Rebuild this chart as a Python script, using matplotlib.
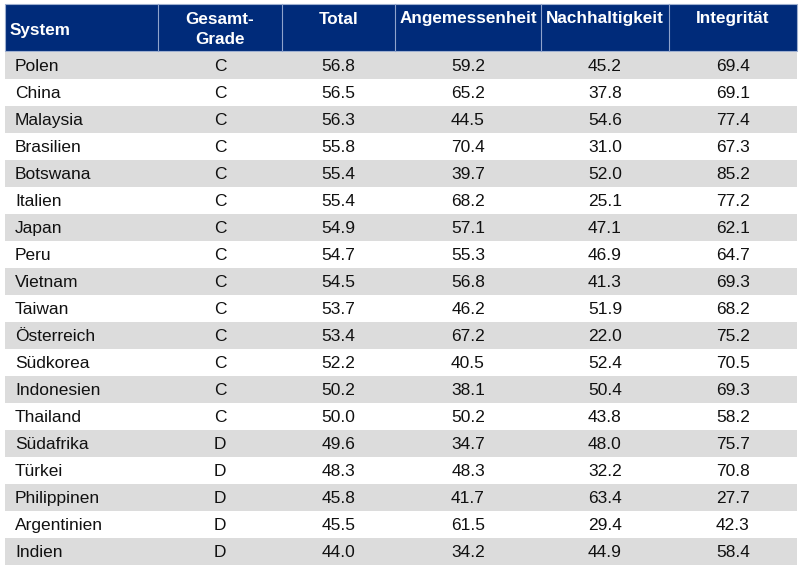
import matplotlib
matplotlib.use('Agg')
import matplotlib.pyplot as plt
from matplotlib.patches import Rectangle

plt.rcParams['font.family'] = ['Liberation Sans', 'DejaVu Sans']

# Tabellendaten
headers = ['System', 'Gesamt-\nGrade', 'Total', 'Angemessenheit', 'Nachhaltigkeit', 'Integrität']
systeme = ['Polen', 'China', 'Malaysia', 'Brasilien', 'Botswana', 'Italien', 'Japan', 'Peru',
           'Vietnam', 'Taiwan', 'Österreich', 'Südkorea', 'Indonesien', 'Thailand',
           'Südafrika', 'Türkei', 'Philippinen', 'Argentinien', 'Indien']
grade = ['C'] * 14 + ['D'] * 5
total = [56.8, 56.5, 56.3, 55.8, 55.4, 55.4, 54.9, 54.7, 54.5, 53.7, 53.4, 52.2, 50.2, 50.0,
         49.6, 48.3, 45.8, 45.5, 44.0]
angemessenheit = [59.2, 65.2, 44.5, 70.4, 39.7, 68.2, 57.1, 55.3, 56.8, 46.2, 67.2, 40.5, 38.1, 50.2,
                  34.7, 48.3, 41.7, 61.5, 34.2]
nachhaltigkeit = [45.2, 37.8, 54.6, 31.0, 52.0, 25.1, 47.1, 46.9, 41.3, 51.9, 22.0, 52.4, 50.4, 43.8,
                  48.0, 32.2, 63.4, 29.4, 44.9]
integritaet = [69.4, 69.1, 77.4, 67.3, 85.2, 77.2, 62.1, 64.7, 69.3, 68.2, 75.2, 70.5, 69.3, 58.2,
               75.7, 70.8, 27.7, 42.3, 58.4]

# Layout in Pixeln
col_edges = [5, 158, 282, 395, 541, 669, 797]
head_top, head_bot = 4, 51
row_h = 27.0

navy = '#002b7a'
grau = '#dcdcdc'

fig = plt.figure(figsize=(8, 5.68), dpi=100)
ax = fig.add_axes([0, 0, 1, 1])
ax.set_xlim(0, 800)
ax.set_ylim(568, 0)
ax.axis('off')

# Kopfzeile
ax.add_patch(Rectangle((col_edges[0], head_top), col_edges[-1] - col_edges[0], head_bot - head_top,
                       facecolor=navy, edgecolor='#9fb0d0', linewidth=0.8))
for x in col_edges[1:-1]:
    ax.plot([x, x], [head_top, head_bot], color='#8fa3cc', linewidth=0.8)

for i, h in enumerate(headers):
    if i == 0:
        ax.text(col_edges[0] + 5, 30, h, color='white', fontsize=12.3, fontweight='bold',
                ha='left', va='center')
    else:
        cx = (col_edges[i] + col_edges[i + 1]) / 2
        ax.text(cx, 11.5, h, color='white', fontsize=12.3, fontweight='bold',
                ha='center', va='top', linespacing=1.45)

# Zeilen
spalten = [grade, total, angemessenheit, nachhaltigkeit, integritaet]
for r, name in enumerate(systeme):
    y0 = head_bot + 1 + r * row_h
    if r % 2 == 0:
        ax.add_patch(Rectangle((col_edges[0], y0), col_edges[-1] - col_edges[0], row_h,
                               facecolor=grau, edgecolor='none'))
    yc = y0 + row_h / 2 + 1.2
    ax.text(col_edges[0] + 10, yc, name, fontsize=12.5, color='#111111', ha='left', va='center')
    for c, werte in enumerate(spalten):
        v = werte[r]
        s = v if isinstance(v, str) else f'{v:.1f}'
        cx = (col_edges[c + 1] + col_edges[c + 2]) / 2
        ax.text(cx, yc, s, fontsize=12.5, color='#111111', ha='center', va='center')

fig.savefig('out.png', dpi=100)
